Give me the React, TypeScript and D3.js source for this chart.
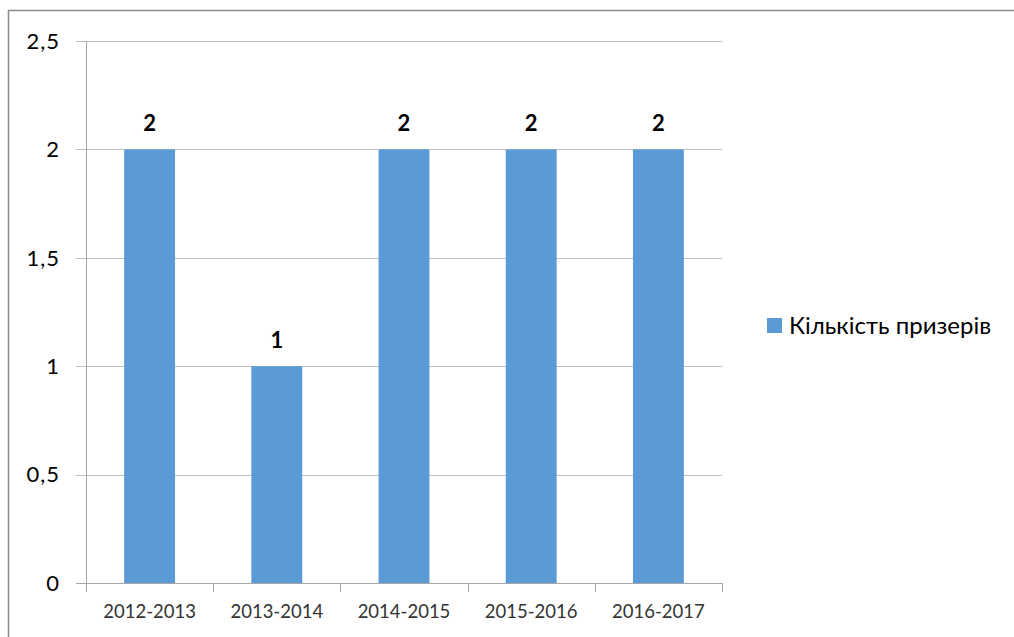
import React, { useRef, useEffect } from "react";
import * as d3 from "d3";

const categories = ["2012-2013", "2013-2014", "2014-2015", "2015-2016", "2016-2017"];
const values = [2, 1, 2, 2, 2];
const yTicks = [0, 0.5, 1, 1.5, 2, 2.5];
const seriesName = "Кількість призерів";

const W = 1014;
const H = 637;
const FONT = "Lato, 'Open Sans', sans-serif";

const App = () => {
  const svgRef = useRef<SVGSVGElement>(null);

  useEffect(() => {
    const svg = d3.select(svgRef.current);
    svg.selectAll("*").remove();

    const left = 86, right = 722, top = 41, bottom = 583;

    const x = d3.scaleBand().domain(categories).range([left, right]).paddingInner(0.6).paddingOuter(0.3);
    const xb = d3.scaleBand().domain(categories).range([left, right]);
    const y = d3.scaleLinear().domain([0, 2.5]).range([bottom, top]);

    // chart frame, cropped at right and bottom
    svg.append("path")
      .attr("d", `M8.5,${H} L8.5,10.5 L${W},10.5`)
      .attr("fill", "none")
      .attr("stroke", "#8c8c8c")
      .attr("stroke-width", 1.5);

    // gridlines
    svg.append("g")
      .selectAll("line")
      .data(yTicks)
      .join("line")
      .attr("x1", left - 10)
      .attr("x2", right)
      .attr("y1", d => Math.round(y(d)) + 0.5)
      .attr("y2", d => Math.round(y(d)) + 0.5)
      .attr("stroke", d => d === 0 ? "#a6a6a6" : "#bfbfbf")
      .attr("stroke-width", 1);

    // y labels
    svg.append("g")
      .selectAll("text")
      .data(yTicks)
      .join("text")
      .attr("x", 60)
      .attr("y", d => y(d))
      .attr("dy", "0.35em")
      .attr("text-anchor", "end")
      .attr("font-family", FONT)
      .attr("font-size", 22)
      .attr("letter-spacing", 1)
      .attr("fill", "#000")
      .text(d => String(d).replace(".", ","));

    // vertical axis
    svg.append("line")
      .attr("x1", left + 0.5).attr("x2", left + 0.5)
      .attr("y1", top).attr("y2", bottom)
      .attr("stroke", "#a6a6a6");

    // x tick marks at category boundaries
    const bounds = categories.map(c => xb(c) as number).concat([right]);
    svg.append("g")
      .selectAll("line")
      .data(bounds)
      .join("line")
      .attr("x1", d => Math.round(d) + 0.5)
      .attr("x2", d => Math.round(d) + 0.5)
      .attr("y1", bottom)
      .attr("y2", bottom + 9)
      .attr("stroke", "#a6a6a6");

    // bars
    svg.append("g")
      .selectAll("rect")
      .data(values)
      .join("rect")
      .attr("x", (d, i) => x(categories[i]) as number)
      .attr("y", d => y(d))
      .attr("width", x.bandwidth())
      .attr("height", d => bottom - y(d))
      .attr("fill", "#5b9bd5");

    // data labels
    svg.append("g")
      .selectAll("text")
      .data(values)
      .join("text")
      .attr("x", (d, i) => (x(categories[i]) as number) + x.bandwidth() / 2)
      .attr("y", d => y(d) - 18)
      .attr("text-anchor", "middle")
      .attr("font-family", FONT)
      .attr("font-weight", "bold")
      .attr("font-size", 22)
      .attr("fill", "#000")
      .text(d => d);

    // x labels
    svg.append("g")
      .selectAll("text")
      .data(categories)
      .join("text")
      .attr("x", d => (xb(d) as number) + xb.bandwidth() / 2)
      .attr("y", 612)
      .attr("dy", "0.35em")
      .attr("text-anchor", "middle")
      .attr("font-family", FONT)
      .attr("font-size", 18.5)
      .attr("fill", "#333")
      .text(d => d);

    // legend
    const lg = svg.append("g").attr("transform", "translate(767,318)");
    lg.append("rect").attr("width", 15).attr("height", 15).attr("fill", "#5b9bd5");
    lg.append("text")
      .attr("x", 22)
      .attr("y", 8)
      .attr("dy", "0.35em")
      .attr("font-family", FONT)
      .attr("font-size", 24)
      .attr("fill", "#000")
      .text(seriesName);
  }, []);

  return (
    <svg
      ref={svgRef}
      width={W}
      height={H}
      style={{ position: "absolute", left: 0, top: 0, background: "#fff" }}
    />
  );
};

export default App;
